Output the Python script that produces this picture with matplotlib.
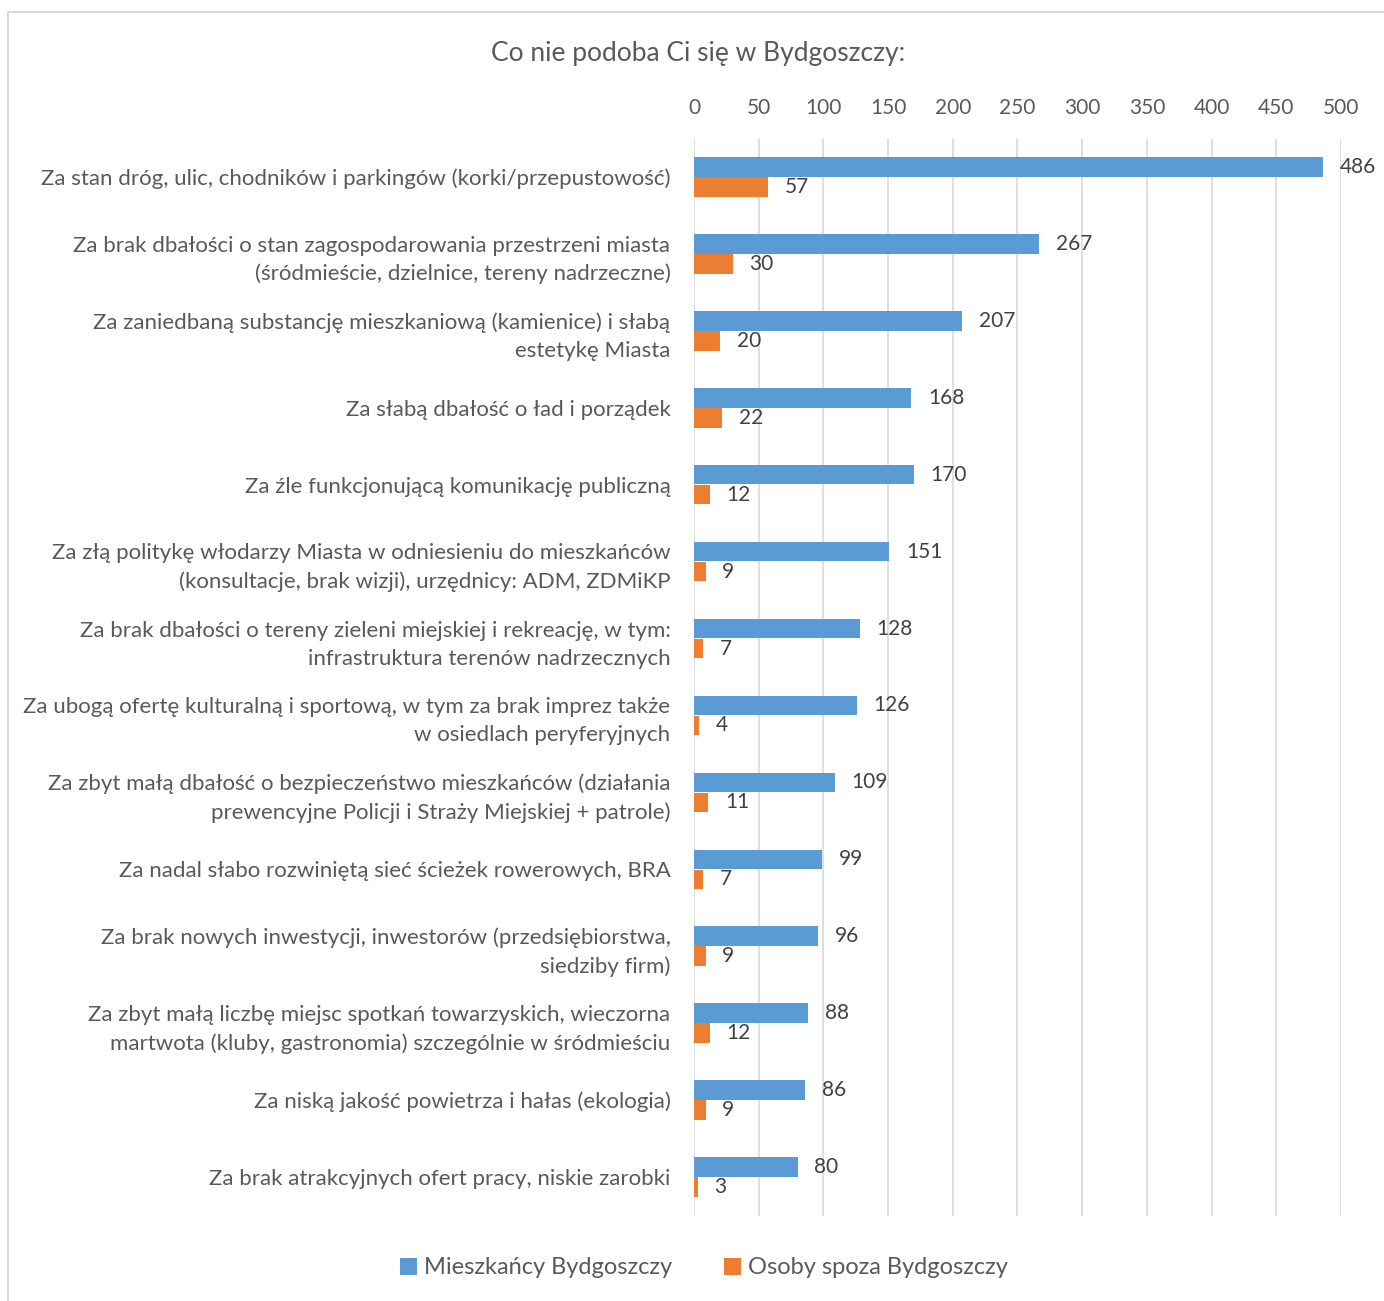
import matplotlib
matplotlib.use("Agg")
import matplotlib.pyplot as plt
from matplotlib.patches import Rectangle
import numpy as np

categories = [
    "Za stan dróg, ulic, chodników i parkingów (korki/przepustowość)",
    "Za brak dbałości o stan zagospodarowania przestrzeni miasta\n(śródmieście, dzielnice, tereny nadrzeczne)",
    "Za zaniedbaną substancję mieszkaniową (kamienice) i słabą\nestetykę Miasta",
    "Za słabą dbałość o ład i porządek",
    "Za źle funkcjonującą komunikację publiczną",
    "Za złą politykę włodarzy Miasta w odniesieniu do mieszkańców\n(konsultacje, brak wizji), urzędnicy: ADM, ZDMiKP",
    "Za brak dbałości o tereny zieleni miejskiej i rekreację, w tym:\ninfrastruktura terenów nadrzecznych",
    "Za ubogą ofertę kulturalną i sportową, w tym za brak imprez także\nw osiedlach peryferyjnych",
    "Za zbyt małą dbałość o bezpieczeństwo mieszkańców (działania\nprewencyjne Policji i Straży Miejskiej + patrole)",
    "Za nadal słabo rozwiniętą sieć ścieżek rowerowych, BRA",
    "Za brak nowych inwestycji, inwestorów (przedsiębiorstwa,\nsiedziby firm)",
    "Za zbyt małą liczbę miejsc spotkań towarzyskich, wieczorna\nmartwota (kluby, gastronomia) szczególnie w śródmieściu",
    "Za niską jakość powietrza i hałas (ekologia)",
    "Za brak atrakcyjnych ofert pracy, niskie zarobki",
]
mieszkancy = [486, 267, 207, 168, 170, 151, 128, 126, 109, 99, 96, 88, 86, 80]
spoza = [57, 30, 20, 22, 12, 9, 7, 4, 11, 7, 9, 12, 9, 3]
series_names = ["Mieszkańcy Bydgoszczy", "Osoby spoza Bydgoszczy"]
xticks = [0, 50, 100, 150, 200, 250, 300, 350, 400, 450, 500]
title = "Co nie podoba Ci się w Bydgoszczy:"

BLUE = "#5B9BD5"
ORANGE = "#ED7D31"
TXT = "#595959"
GRID = "#D9D9D9"
FONT = ["Lato", "DejaVu Sans"]

plt.rcParams["font.family"] = FONT

W, H = 1384, 1301
fig = plt.figure(figsize=(W / 100, H / 100), dpi=100)

# outer border
fig.add_artist(Rectangle((8 / W, -0.01), 1.1, 1 - 12 / H + 0.01, transform=fig.transFigure,
                         fill=False, edgecolor="#D9D9D9", linewidth=1.5))

ax = fig.add_axes([694 / W, 1 - 1215.5 / H, (1341 - 694) / W, (1215.5 - 138.5) / H])
n = len(categories)
y = np.arange(n)
bh = 0.255
off = 0.13
ax.barh(y - off, mieszkancy, height=bh, color=BLUE, label=series_names[0], zorder=3)
ax.barh(y + off, spoza, height=bh, color=ORANGE, label=series_names[1], zorder=3)
ax.set_ylim(n - 0.5, -0.5)
ax.set_xlim(0, 500)
ax.set_xticks(xticks)
ax.xaxis.tick_top()
ax.tick_params(axis="x", length=0, pad=15, labelsize=15, labelcolor=TXT)
ax.set_yticks(y)
ax.set_yticklabels(categories, fontsize=16, color=TXT, ha="right", linespacing=1.5)
for lbl in ax.get_yticklabels():
    lbl.set_verticalalignment("center_baseline")
ax.tick_params(axis="y", length=0, pad=17)
for s in ax.spines.values():
    s.set_visible(False)
ax.grid(axis="x", color=GRID, linewidth=1.2, zorder=0)
ax.set_axisbelow(True)

for i in range(n):
    ax.annotate(str(mieszkancy[i]), (mieszkancy[i], y[i] - off), xytext=(12, 0),
                textcoords="offset points", va="center", ha="left", fontsize=15, color="#404040")
    ax.annotate(str(spoza[i]), (spoza[i], y[i] + off), xytext=(12, 0),
                textcoords="offset points", va="center", ha="left", fontsize=15, color="#404040")

fig.text(698 / W, 1 - 53 / H, title, ha="center", va="center", fontsize=19, color=TXT)

leg = fig.legend(loc="center", bbox_to_anchor=(704 / W, 1 - 1268 / H), ncol=2, frameon=False,
                 fontsize=17, handlelength=0.7, handleheight=0.7, handletextpad=0.3,
                 columnspacing=2.2, labelcolor=TXT)

fig.savefig("out.png", dpi=100, facecolor="white")
